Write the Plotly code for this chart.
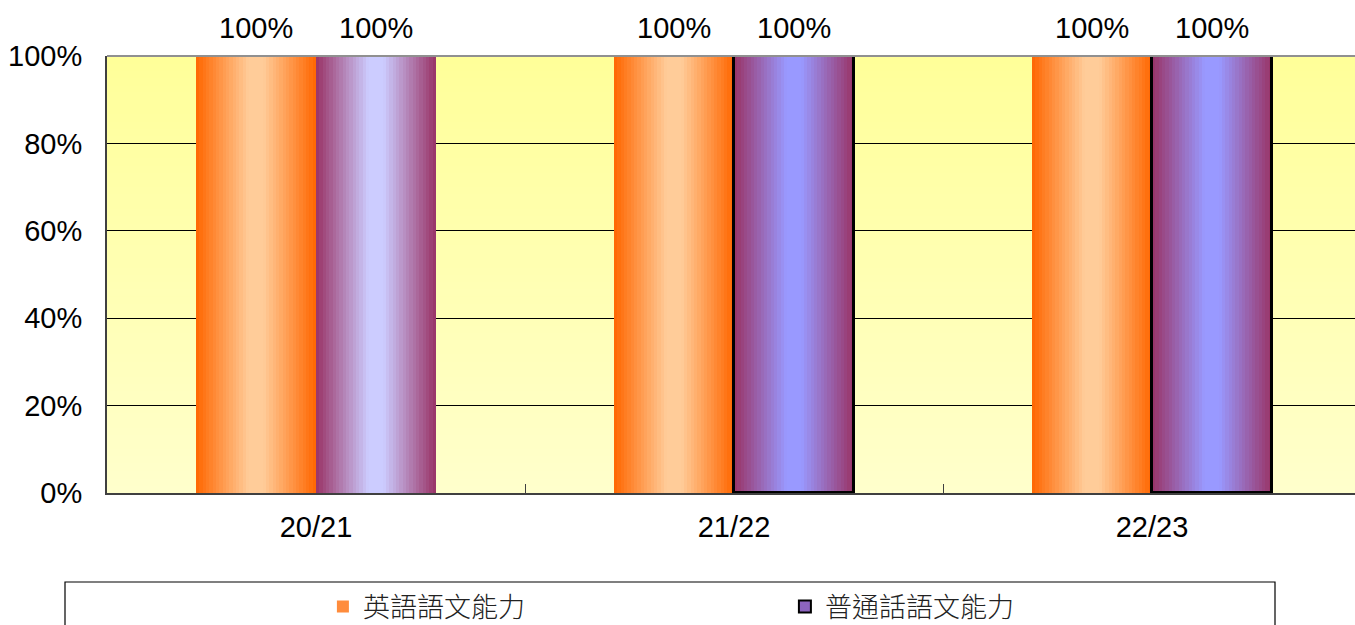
import plotly.graph_objects as go

# ---- data ----
categories = ["20/21", "21/22", "22/23"]
english = [1.0, 1.0, 1.0]
putonghua = [1.0, 1.0, 1.0]
series_names = ["英語語文能力", "普通話語文能力"]
y_ticks = [0, 0.2, 0.4, 0.6, 0.8, 1.0]

# ---- style ----
FONT = "Liberation Sans, Arial, Noto Sans CJK TC, sans-serif"
ENG_EDGE, ENG_CENTER = (255, 102, 0), (255, 204, 153)
PUR_EDGE = (153, 51, 102)
PUR_CENTERS = [(204, 204, 255), (153, 153, 255), (153, 153, 255)]
PUR_BORDER = [0, 3, 3]
BAR_W = 0.287
N = 36


def lerp(a, b, f):
    return "rgb(%d,%d,%d)" % tuple(round(a[k] + (b[k] - a[k]) * f) for k in range(3))


def profile(u):
    t = abs(2 * u - 1)
    return min(1.0, (1 - t) / 0.88)


x_idx = list(range(len(categories)))
fig = go.Figure()

# legend carriers (drawn first, hidden beneath the gradient slices)
fig.add_trace(go.Bar(
    x=x_idx, y=english, width=BAR_W * 0.4, offset=-BAR_W * 0.7,
    marker=dict(color="rgb(255,140,60)", line=dict(width=0)),
    name=series_names[0], hoverinfo="skip",
))
fig.add_trace(go.Bar(
    x=x_idx, y=putonghua, width=BAR_W * 0.4, offset=BAR_W * 0.3,
    marker=dict(color="rgb(140,100,190)", line=dict(color="black", width=2)),
    name=series_names[1], hoverinfo="skip",
))

series = [
    (english, -BAR_W, [ENG_EDGE] * 3, [ENG_CENTER] * 3),
    (putonghua, 0.0, [PUR_EDGE] * 3, PUR_CENTERS),
]
for vals, off0, edges, centers in series:
    sw = BAR_W / N
    for i in range(N):
        u = (i + 0.5) / N
        f = profile(u)
        cols = [lerp(edges[k], centers[k], f) for k in range(len(vals))]
        w = sw * 1.4 if i < N - 1 else sw
        fig.add_trace(go.Bar(
            x=x_idx, y=vals, width=w, offset=off0 + i * sw,
            marker=dict(color=cols, line=dict(width=0)),
            showlegend=False, hoverinfo="skip",
        ))

# borders on purple bars
fig.add_trace(go.Bar(
    x=x_idx, y=putonghua, width=BAR_W, offset=0.0,
    marker=dict(color="rgba(0,0,0,0)", line=dict(color="black", width=PUR_BORDER)),
    showlegend=False, hoverinfo="skip",
))

# background gradient strips
NS = 60
shapes = []
for i in range(NS):
    f = (i + 0.5) / NS
    shapes.append(dict(type="rect", xref="paper", yref="paper", x0=0, x1=1,
                       y0=i / NS, y1=(i + 1) / NS + 0.002, layer="below",
                       line=dict(width=0),
                       fillcolor=lerp((255, 255, 204), (255, 255, 153), f)))
# top border
shapes.append(dict(type="line", xref="paper", yref="paper", x0=0, x1=1, y0=1, y1=1,
                   line=dict(color="#909090", width=2)))
# legend box
shapes.append(dict(type="rect", xref="paper", yref="paper",
                   x0=(65 - 107) / 1248, x1=(1275 - 107) / 1248,
                   y0=(493 - 582) / 437, y1=(493 - 660) / 437,
                   line=dict(color="black", width=1.2), fillcolor="rgba(0,0,0,0)"))

annotations = []
for vals, c in [(english, -BAR_W / 2), (putonghua, BAR_W / 2)]:
    for k, v in enumerate(vals):
        annotations.append(dict(x=x_idx[k] + c, y=v, xref="x", yref="y",
                                text=f"{v:.0%}", showarrow=False,
                                yanchor="bottom", yshift=10,
                                font=dict(size=29, color="black", family=FONT)))

fig.update_layout(
    width=1355, height=625,
    margin=dict(l=107, r=0, t=56, b=132, autoexpand=False),
    paper_bgcolor="white", plot_bgcolor="rgba(0,0,0,0)",
    barmode="overlay", bargap=0,
    font=dict(family=FONT, size=29, color="black"),
    shapes=shapes, annotations=annotations,
    legend=dict(orientation="h", x=0.173, xanchor="left", y=-0.261, yanchor="middle",
                entrywidth=417, entrywidthmode="pixels", itemwidth=30,
                bgcolor="rgba(0,0,0,0)", borderwidth=0,
                font=dict(size=27, color="#222", weight=300,
                          family="Noto Sans CJK TC, sans-serif")),
    xaxis=dict(range=[-0.5, -0.5 + 1248 / 418], tickmode="array", tickvals=x_idx,
               ticktext=categories, ticks="", showgrid=False, zeroline=False,
               showline=True, linecolor="#404040", linewidth=2,
               ticklabelstandoff=7,
               minor=dict(tickmode="array", tickvals=[0.5, 1.5], ticks="inside",
                          ticklen=9, tickcolor="#404040", tickwidth=1, showgrid=False),
               fixedrange=True),
    yaxis=dict(range=[0, 1], tickmode="array", tickvals=y_ticks, tickformat=".0%",
               showgrid=True, gridcolor="black", gridwidth=1, zeroline=False,
               showline=True, linecolor="#404040", linewidth=2,
               ticks="", ticklabelstandoff=17, fixedrange=True),
)

fig.write_html("out.html", config={"displayModeBar": False},
               post_script="document.body.style.margin='0';document.body.style.overflow='hidden';")
